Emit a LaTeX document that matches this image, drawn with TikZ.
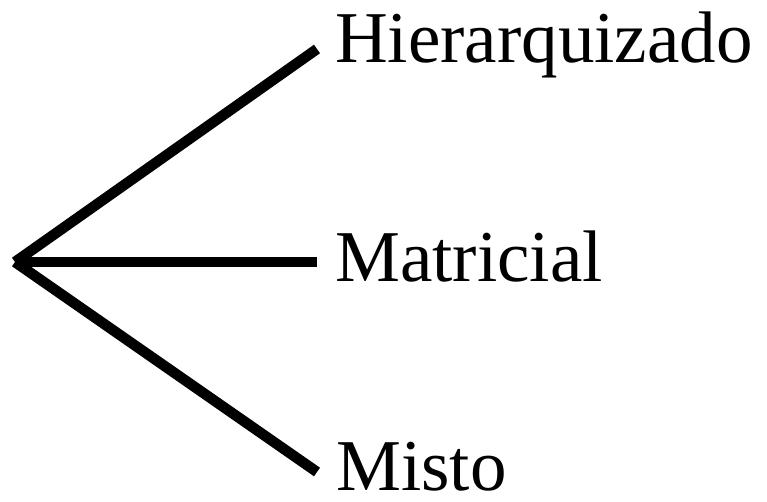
\documentclass[tikz,border=0pt]{standalone}
\usepackage{fontspec}
\setmainfont{Liberation Serif}
\usepackage{tikz}
\usetikzlibrary{positioning}

\begin{document}
\begin{tikzpicture}[x=1pt, y=1pt,
    branch/.style={line width=10.5pt, black},
    kind/.style={anchor=base west, inner sep=0pt, font=\fontsize{73}{80}\selectfont}]
    \useasboundingbox (0,0) rectangle (767,502);

    \coordinate (root) at (15,240);

    \coordinate (hier-end) at (317,453);
    \coordinate (matr-end) at (317,240);
    \coordinate (mist-end) at (317,30);

    \node[kind] (hier) at (335,439) {Hierarquizado};
    \node[kind] (matr) at (335,220) {Matricial};
    \node[kind] (mist) at (336,11) {Misto};

    \draw[branch] (root) -- (hier-end);
    \draw[branch] (root) -- (matr-end);
    \draw[branch] (root) -- (mist-end);
\end{tikzpicture}
\end{document}
